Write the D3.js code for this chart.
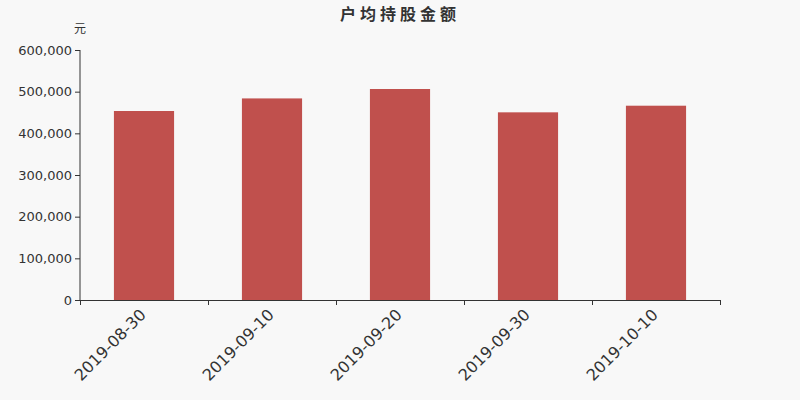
<!DOCTYPE html>
<html>
<head>
<meta charset="utf-8">
<script src="https://cdn.jsdelivr.net/npm/d3@7"></script>
<style>
  body { margin: 0; background: #f8f8f8; }
  svg { display: block; font-family: "DejaVu Sans", "Noto Sans CJK SC", sans-serif; }
</style>
</head>
<body>
<svg id="chart" width="800" height="400"></svg>
<script>
// data
const dates = ["2019-08-30", "2019-09-10", "2019-09-20", "2019-09-30", "2019-10-10"];
const amounts = [453600, 483800, 506400, 450400, 466300];
const yTicks = [0, 100000, 200000, 300000, 400000, 500000, 600000];

const width = 800, height = 400;
const margin = { top: 50, right: 80, bottom: 100, left: 80 };

const svg = d3.select("#chart");
svg.append("rect").attr("width", width).attr("height", height).attr("fill", "#f8f8f8");

const x = d3.scaleBand()
  .domain(dates)
  .range([margin.left, width - margin.right])
  .paddingInner(0.53)
  .paddingOuter(0.265);

const y = d3.scaleLinear()
  .domain([0, 600000])
  .range([height - margin.bottom, margin.top]);

// title
svg.append("text")
  .attr("x", 400).attr("y", 20)
  .attr("text-anchor", "middle")
  .attr("font-size", 16).attr("font-weight", "bold")
  .attr("letter-spacing", 4)
  .attr("fill", "#333")
  .text("户均持股金额");

// unit label
svg.append("text")
  .attr("x", 80).attr("y", 33)
  .attr("text-anchor", "middle")
  .attr("font-size", 12)
  .attr("fill", "#333")
  .text("元");

// bars
svg.append("g")
  .selectAll("rect")
  .data(amounts)
  .join("rect")
  .attr("x", (d, i) => x(dates[i]))
  .attr("y", d => y(d))
  .attr("width", x.bandwidth())
  .attr("height", d => y(0) - y(d))
  .attr("fill", "#c0504d");

// y axis
const yAxis = svg.append("g")
  .attr("transform", `translate(${margin.left},0)`)
  .call(d3.axisLeft(y).tickValues(yTicks).tickSize(5).tickPadding(3).tickFormat(d3.format(",")));
yAxis.select(".domain").attr("stroke", "#333").attr("d", `M-0.5,${y(600000)}V${y(0)}`).attr("transform", "translate(0.5,0)");
yAxis.selectAll(".tick line").attr("stroke", "#333");
yAxis.selectAll(".tick text").attr("fill", "#333").attr("font-size", 13).attr("font-family", "DejaVu Sans");

// x axis with boundary ticks
const xBoundary = d3.scaleLinear().domain([0, dates.length]).range([margin.left, width - margin.right]);
const xAxis = svg.append("g")
  .attr("transform", `translate(0,${height - margin.bottom})`);
xAxis.append("line")
  .attr("x1", margin.left).attr("x2", width - margin.right)
  .attr("y1", 0.5).attr("y2", 0.5)
  .attr("stroke", "#333");
xAxis.selectAll(".bt")
  .data(d3.range(dates.length + 1))
  .join("line")
  .attr("class", "bt")
  .attr("x1", d => Math.round(xBoundary(d)) + 0.5)
  .attr("x2", d => Math.round(xBoundary(d)) + 0.5)
  .attr("y1", 0).attr("y2", 5)
  .attr("stroke", "#333");
xAxis.selectAll(".lbl")
  .data(dates)
  .join("text")
  .attr("class", "lbl")
  .attr("transform", d => `translate(${x(d) + x.bandwidth() / 2 - 5},${8}) rotate(-45)`)
  .attr("text-anchor", "end")
  .attr("dy", "0.7em")
  .attr("font-size", 16)
  .attr("fill", "#333")
  .text(d => d);
</script>
</body>
</html>
